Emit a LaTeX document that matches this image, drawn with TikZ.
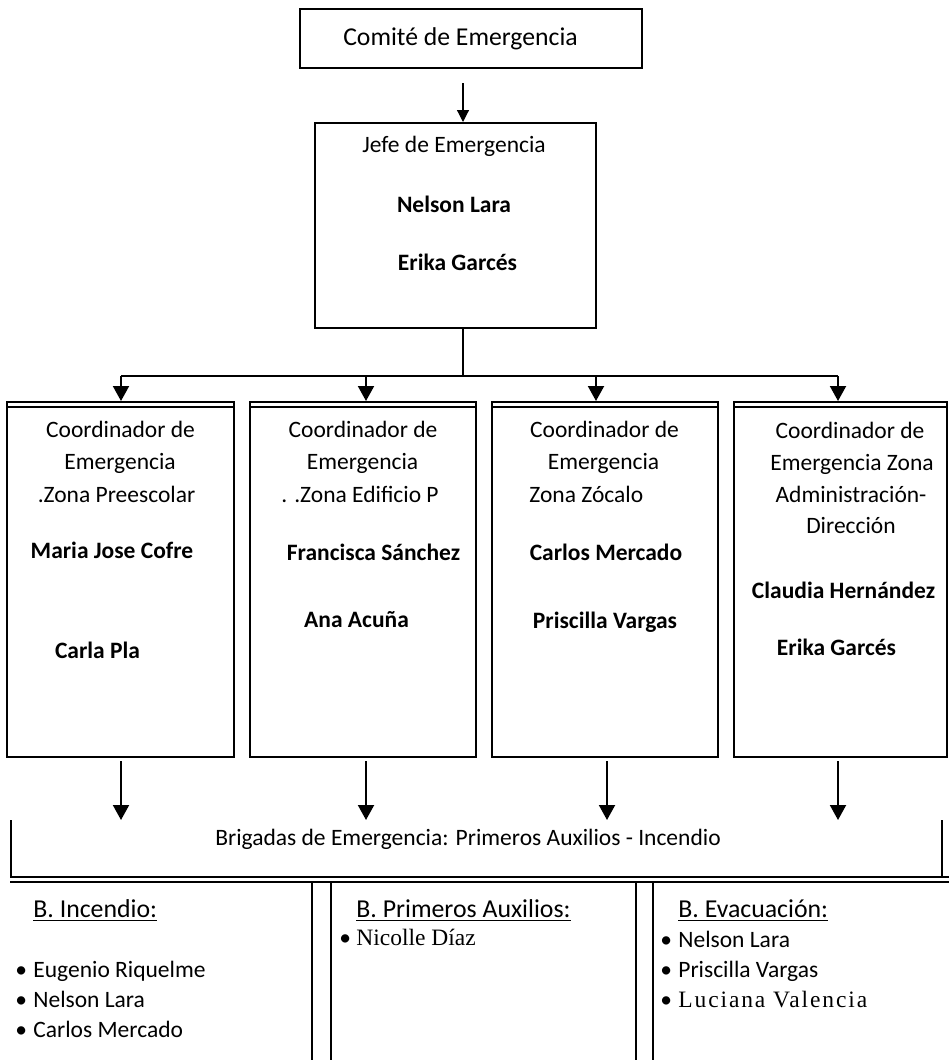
\documentclass[tikz,border=0pt]{standalone}
\usepackage{fontspec}
\setmainfont{Carlito}
\newfontfamily\serifnames{Liberation Serif}
\newfontfamily\spacednames[LetterSpace=8]{Liberation Serif}
\usetikzlibrary{arrows.meta}

\tikzset{
	box/.style={draw, line width=1pt, shape=rectangle, inner sep=0pt},
	txt/.style={inner sep=0pt, anchor=base, font=\fontsize{11.75}{14}\selectfont},
	bname/.style={inner sep=0pt, anchor=base, font=\fontsize{11.75}{14}\selectfont\bfseries},
	item/.style={inner sep=0pt, anchor=base west, font=\fontsize{11.75}{14}\selectfont},
	hdr/.style={inner sep=0pt, anchor=base west, font=\fontsize{12.9}{15}\selectfont},
	wire/.style={line width=1pt},
	arr/.style={line width=1pt, -{Triangle[width=8pt, length=7.5pt]}},
	thinarr/.style={line width=0.6pt, -{Triangle[width=6pt, length=6pt]}},
}
\newcommand{\blt}{\makebox[9pt][l]{\textbullet}}

\begin{document}
\begin{tikzpicture}[x=0.5pt, y=-0.5pt]
	\useasboundingbox (0, 0) rectangle (949, 1060);
	% Boxes:
	\node[box, minimum width=171pt, minimum height=29.5pt] (comite) at (471, 38.5){};
	\node[box, minimum width=140.5pt, minimum height=102.5pt] (jefe) at (455.5, 225.5){};
	\node[box, minimum width=113.5pt, minimum height=177.5pt] (coordA) at (120.5, 579.5){};
	\node[box, minimum width=113pt, minimum height=177.5pt] (coordB) at (363, 579.5){};
	\node[box, minimum width=113pt, minimum height=177.5pt] (coordC) at (605, 579.5){};
	\node[box, minimum width=106.5pt, minimum height=177.5pt] (coordD) at (840.5, 579.5){};
	\draw[line width=0.7pt] ([yshift=-3pt]coordA.north west) -- ([yshift=-3pt]coordA.north east);
	\draw[line width=0.7pt] ([yshift=-3pt]coordB.north west) -- ([yshift=-3pt]coordB.north east);
	\draw[line width=0.7pt] ([yshift=-3pt]coordC.north west) -- ([yshift=-3pt]coordC.north east);
	\draw[line width=0.7pt] ([yshift=-3pt]coordD.north west) -- ([yshift=-3pt]coordD.north east);

	% Texts:
	\node[txt, font=\fontsize{12.85}{15}\selectfont] (tcomite) at (460.5, 45){Comité de Emergencia};
	\node[txt] (tjefe) at (454, 152){Jefe de Emergencia};
	\node[bname] (njefeA) at (454, 212){Nelson Lara};
	\node[bname] (njefeB) at (457.5, 270){Erika Garcés};

	\node[txt] (tA1) at (120.5, 437){Coordinador de};
	\node[txt] (tA2) at (120, 469){Emergencia};
	\node[txt] (tA3) at (116.5, 502){.Zona Preescolar};
	\node[bname] (nA1) at (112, 558){Maria Jose Cofre};
	\node[bname] (nA2) at (97.5, 658){Carla Pla};

	\node[txt] (tB1) at (363, 437){Coordinador de};
	\node[txt] (tB2) at (362.5, 469){Emergencia};
	\node[txt] (tB3) at (360, 502){. .Zona Edificio P};
	\node[bname] (nB1) at (373.5, 560){Francisca Sánchez};
	\node[bname] (nB2) at (356.5, 627){Ana Acuña};

	\node[txt] (tC1) at (604.5, 437){Coordinador de};
	\node[txt] (tC2) at (603.5, 469){Emergencia};
	\node[txt, anchor=base west] (tC3) at (529, 502){Zona Zócalo};
	\node[bname] (nC1) at (606, 560){Carlos Mercado};
	\node[bname] (nC2) at (605, 628){Priscilla Vargas};

	\node[txt] (tD1) at (850, 438){Coordinador de};
	\node[txt] (tD2) at (852, 470){Emergencia Zona};
	\node[txt] (tD3) at (851, 502){Administración-};
	\node[txt] (tD4) at (851, 533){Dirección};
	\node[bname] (nD1) at (843.5, 598){Claudia Hernández};
	\node[bname] (nD2) at (836.5, 655){Erika Garcés};

	\node[txt] (brig) at (468, 845){Brigadas de Emergencia: Primeros Auxilios - Incendio};

	% Wires and arrows:
	\coordinate (cj) at (463, 83);
	\coordinate (bus) at (463, 376);
	\coordinate (fA) at (121, 376);
	\coordinate (fB) at (366, 376);
	\coordinate (fC) at (596, 376);
	\coordinate (fD) at (838, 376);
	\draw[thinarr] (cj) -- (cj |- jefe.north);
	\draw[wire] (bus |- jefe.south) -- (bus);
	\draw[wire] (fA) -- (fD);
	\draw[arr] (fA) -- (fA |- coordA.north);
	\draw[arr] (fB) -- (fB |- coordB.north);
	\draw[arr] (fC) -- (fC |- coordC.north);
	\draw[arr] (fD) -- (fD |- coordD.north);
	\coordinate (bA) at (121, 820);
	\coordinate (bB) at (366, 820);
	\coordinate (bC) at (607, 820);
	\coordinate (bD) at (838, 820);
	\draw[arr] ([yshift=-1.5pt]coordA.south -| bA) -- (bA);
	\draw[arr] ([yshift=-1.5pt]coordB.south -| bB) -- (bB);
	\draw[arr] ([yshift=-1.5pt]coordC.south -| bC) -- (bC);
	\draw[arr] ([yshift=-1.5pt]coordD.south -| bD) -- (bD);

	% Brigadas frame and table:
	\draw[wire] (11, 820) -- (11, 877);
	\draw[wire] (942, 820) -- (942, 877);
	\draw[wire] (10, 877) -- (949, 877);
	\draw[wire] (10, 881.5) -- (949, 881.5);
	\draw[wire] (312, 881.5) -- (312, 1060);
	\draw[wire] (331, 881.5) -- (331, 1060);
	\draw[wire] (636, 881.5) -- (636, 1060);
	\draw[wire] (653, 881.5) -- (653, 1060);

	\node[hdr] (hInc) at (33, 917){\underline{B. Incendio:}};
	\node[item] (iInc1) at (15, 977){\blt Eugenio Riquelme};
	\node[item] (iInc2) at (15, 1007){\blt Nelson Lara};
	\node[item] (iInc3) at (15, 1037){\blt Carlos Mercado};

	\node[hdr] (hAux) at (356, 917){\underline{B. Primeros Auxilios:}};
	\node[item] (iAux1) at (339, 945){\makebox[8.5pt][l]{\textbullet}{\serifnames Nicolle Díaz}};

	\node[hdr] (hEva) at (678, 917){\underline{B. Evacuación:}};
	\node[item] (iEva1) at (660, 947){\blt Nelson Lara};
	\node[item] (iEva2) at (660, 977){\blt Priscilla Vargas};
	\node[item] (iEva3) at (660, 1007){\blt{\spacednames Luciana Valencia}};
\end{tikzpicture}
\end{document}
